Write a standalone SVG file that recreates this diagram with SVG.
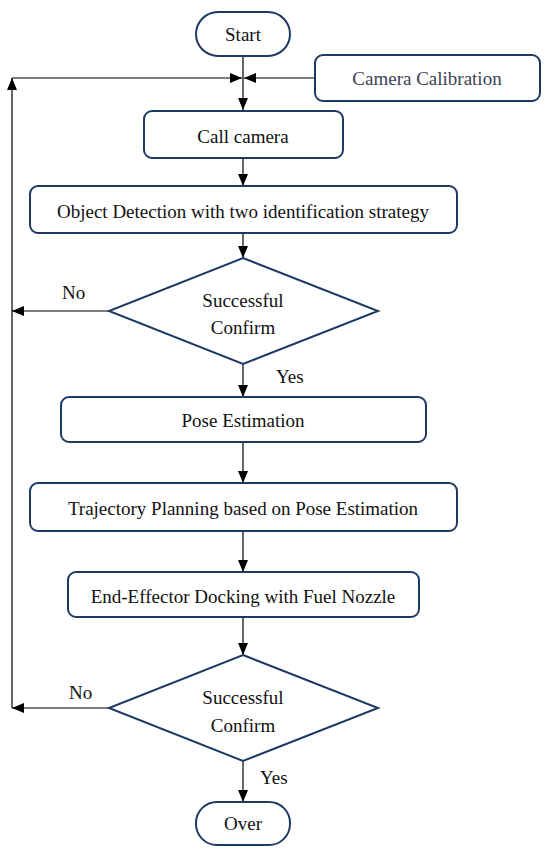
<svg xmlns="http://www.w3.org/2000/svg" width="550" height="857" viewBox="0 0 550 857">
<style>
.box{fill:#fff;stroke:#1f3864;stroke-width:2}
text{font-family:'Liberation Serif','DejaVu Serif',serif;font-size:19px;fill:#111}
.t{text-anchor:middle}
.g{fill:#3b4252}
.c{fill:none;stroke:#000;stroke-width:1.2}
</style>
<defs>
<marker id="ah" markerUnits="userSpaceOnUse" markerWidth="12" markerHeight="10" refX="12" refY="5" orient="auto">
<path d="M0,0 L12,5 L0,10 z" fill="#000"/>
</marker>
</defs>
<rect width="550" height="857" fill="#fff"/>
<g id="connectors">
<line class="c" x1="243" y1="56" x2="243" y2="110" marker-end="url(#ah)"/>
<line class="c" x1="315" y1="78" x2="244" y2="78" marker-end="url(#ah)"/>
<line class="c" x1="12" y1="78" x2="242" y2="78" marker-end="url(#ah)"/>
<line class="c" x1="12" y1="708" x2="12" y2="78" marker-end="url(#ah)"/>
<line class="c" x1="243" y1="158" x2="243" y2="186" marker-end="url(#ah)"/>
<line class="c" x1="243" y1="233" x2="243" y2="258" marker-end="url(#ah)"/>
<line class="c" x1="109" y1="311" x2="12" y2="311" marker-end="url(#ah)"/>
<line class="c" x1="243" y1="364" x2="243" y2="397" marker-end="url(#ah)"/>
<line class="c" x1="243" y1="442" x2="243" y2="483" marker-end="url(#ah)"/>
<line class="c" x1="243" y1="531" x2="243" y2="572" marker-end="url(#ah)"/>
<line class="c" x1="243" y1="617" x2="243" y2="655" marker-end="url(#ah)"/>
<line class="c" x1="109" y1="708" x2="12" y2="708" marker-end="url(#ah)"/>
<line class="c" x1="243" y1="761" x2="243" y2="802" marker-end="url(#ah)"/>
<text x="62" y="299" font-family="Liberation Serif, DejaVu Serif, serif">No</text>
<text x="276" y="383" font-family="Liberation Serif, DejaVu Serif, serif">Yes</text>
<text x="69" y="699" font-family="Liberation Serif, DejaVu Serif, serif">No</text>
<text x="260" y="784" font-family="Liberation Serif, DejaVu Serif, serif">Yes</text>
</g>
<g id="start">
<rect class="box" x="196" y="12" width="94" height="44" rx="22"/>
<text class="t" x="243" y="41">Start</text>
</g>
<g id="camera-calibration">
<rect class="box" x="315" y="55" width="225" height="46" rx="8"/>
<text class="t g" x="427" y="85">Camera Calibration</text>
</g>
<g id="call-camera">
<rect class="box" x="144" y="111" width="199" height="47" rx="8"/>
<text class="t" x="243" y="143">Call camera</text>
</g>
<g id="object-detection">
<rect class="box" x="30" y="186" width="427" height="47" rx="8"/>
<text class="t" x="243" y="218">Object Detection with two identification strategy</text>
</g>
<g id="confirm1">
<polygon class="box" points="243,258 378,311 243,364 109,311"/>
<text class="t" x="243" y="307">Successful</text>
<text class="t" x="243" y="334">Confirm</text>
</g>
<g id="pose-estimation">
<rect class="box" x="61" y="397" width="365" height="45" rx="8"/>
<text class="t" x="243" y="427">Pose Estimation</text>
</g>
<g id="trajectory">
<rect class="box" x="30" y="483" width="427" height="48" rx="8"/>
<text class="t" x="243" y="515">Trajectory Planning based on Pose Estimation</text>
</g>
<g id="docking">
<rect class="box" x="68" y="572" width="351" height="45" rx="8"/>
<text class="t" x="243" y="603">End-Effector Docking with Fuel Nozzle</text>
</g>
<g id="confirm2">
<polygon class="box" points="243,655 378,708 243,761 109,708"/>
<text class="t" x="243" y="704">Successful</text>
<text class="t" x="243" y="732">Confirm</text>
</g>
<g id="over">
<rect class="box" x="196" y="802" width="94" height="43" rx="21"/>
<text class="t" x="243" y="830">Over</text>
</g>
</svg>
